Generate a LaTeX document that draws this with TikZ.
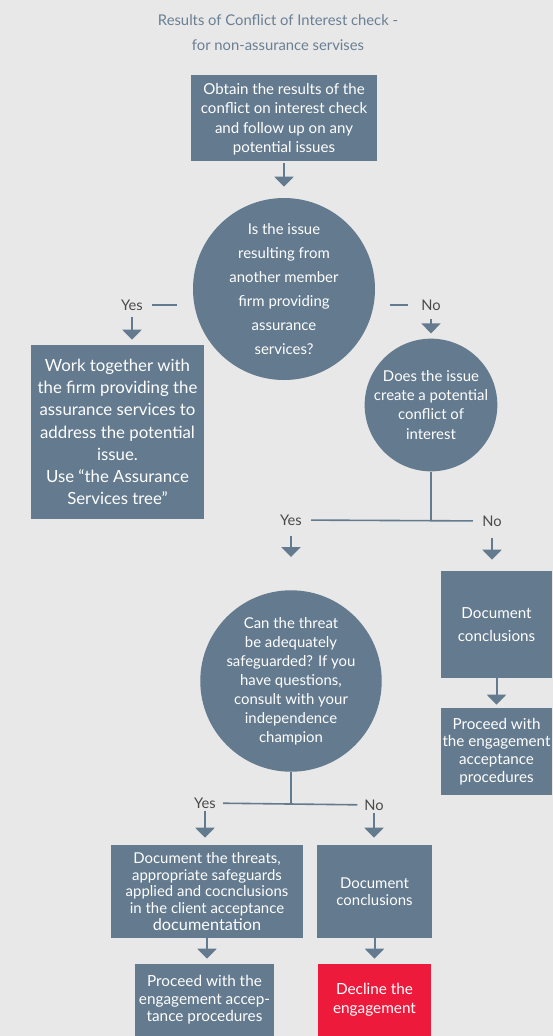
\documentclass[tikz,border=0pt]{standalone}
\usepackage{fontspec}
\setmainfont{Lato}
\usepackage{tikz}
\usetikzlibrary{positioning,
                arrows.meta}                % arrow tips

\definecolor{bgGrey}{HTML}{E8E8E8}
\definecolor{boxBlue}{HTML}{637A8F}
\definecolor{titleBlue}{HTML}{6A7F94}
\definecolor{labelGrey}{HTML}{4A4A4A}
\definecolor{declineRed}{HTML}{EE1A3C}

\tikzset{
    box/.style={rectangle, fill=boxBlue, text=white, align=center, inner sep=1pt,
                font=\fontsize{11.3}{14.5}\selectfont},
    blob/.style={circle, fill=boxBlue, text=white, align=center, inner sep=0pt,
                 font=\fontsize{11.2}{14.3}\selectfont},
    answer/.style={text=labelGrey, inner sep=0pt, font=\fontsize{11}{12}\selectfont},
    link/.style={boxBlue, line width=1.2pt},
    arr/.style={boxBlue, line width=1.5pt, -{Triangle[width=14.25pt, length=7.5pt]}},
}

\begin{document}
\begin{tikzpicture}[x=0.75pt, y=-0.75pt]
        \fill[bgGrey] (0,0) rectangle (553,1036);
        \useasboundingbox (0,0) rectangle (553,1036);

        \node[text=titleBlue, align=center, font=\fontsize{11.1}{18.75}\selectfont] (title) at (278,33)
            {Results of Conflict of Interest check -\\for non-assurance servises};

        \node[box, minimum width=139.5pt, minimum height=64.5pt, text depth=-2pt] (obtain) at (284,118)
            {Obtain the results of the\\conflict on interest check\\and follow up on any\\potential issues};

        \node[blob, minimum size=136.5pt, font=\fontsize{11.2}{18}\selectfont] (issue) at (284,289)
            {Is the issue\\resulting from\\another member\\firm providing\\assurance\\services?};

        \node[answer] (yesA) at (132,305) {Yes};
        \node[answer] (noA) at (431,305) {No};

        \node[box, minimum width=129.75pt, minimum height=130.5pt, font=\fontsize{12.6}{16.6}\selectfont] (work) at (117.5,432)
            {Work together with\\the firm providing the\\assurance services to\\address the potential\\issue.\\Use ``the Assurance\\Services tree''};

        \node[blob, minimum size=90pt] (create) at (431,405)
            {Does the issue\\create a potential\\conflict of\\interest};

        \node[answer] (yesB) at (291,520) {Yes};
        \node[answer] (noB) at (492,521) {No};

        \node[blob, minimum size=132pt] (threat) at (291,681)
            {Can the threat\\be adequately\\safeguarded? If you\\have questions,\\consult with your\\independence\\champion};

        \node[box, minimum width=83.25pt, minimum height=80.25pt, font=\fontsize{11.4}{17.25}\selectfont] (docA) at (496.5,624.5)
            {Document\\conclusions};
        \node[box, minimum width=83.25pt, minimum height=65.25pt, font=\fontsize{11.4}{13.3}\selectfont] (proceedA) at (496.5,751.5)
            {Proceed with\\the engagement\\acceptance\\procedures};

        \node[answer] (yesC) at (205,803) {Yes};
        \node[answer] (noC) at (374,805) {No};

        \node[box, minimum width=144pt, minimum height=69.75pt, font=\fontsize{11.2}{12.4}\selectfont] (docB) at (207,891.5)
            {Document the threats,\\appropriate safeguards\\applied and cocnclusions\\in the client acceptance\\{\fontsize{12.2}{13.6}\selectfont documentation}};
        \node[box, minimum width=86.25pt, minimum height=69.75pt, font=\fontsize{11.2}{12.8}\selectfont] (docC) at (374.5,891.5)
            {Document\\conclusions};

        \node[box, minimum width=104.25pt, minimum height=54pt, font=\fontsize{11.5}{13.1}\selectfont] (proceedB) at (204.5,1000)
            {Proceed with the\\engagement accep-\\tance procedures};
        \node[box, fill=declineRed, minimum width=84.75pt, minimum height=54pt, font=\fontsize{11.5}{14.3}\selectfont] (decline) at (374.5,1000)
            {Decline the\\engagement};

        % first question
        \draw[arr, shorten <=1.5pt, shorten >=8.25pt] (obtain) -- (issue);
        \draw[link, shorten <=6.75pt] (yesA.east) -- ([xshift=-12pt]yesA.east -| issue.west);
        \draw[link, shorten <=11.25pt, shorten >=10pt] (issue.east |- noA) -- (noA);
        \draw[arr, shorten <=4.5pt, shorten >=3.75pt] (yesA) -- (yesA |- work.north);
        \draw[arr, shorten <=6pt, shorten >=3.75pt] (noA) -- (noA |- create.north);

        % second question
        \draw[link] (create.south) -- (create.south |- yesB);
        \draw[link, shorten <=6.75pt, shorten >=7pt] (yesB) -- (noB);
        \draw[arr, shorten <=7.5pt, shorten >=24.75pt] (yesB) -- (yesB |- threat.north);
        \draw[arr, shorten <=8.25pt, shorten >=8.25pt] (noB) -- (noB |- docA.north);
        \draw[arr, shorten >=2.25pt] (docA) -- (proceedA);

        % third question
        \draw[link] (threat.south) -- (threat.south |- yesC);
        \draw[link, shorten <=5.25pt, shorten >=5pt] (yesC) -- (noC);
        \draw[arr, shorten <=1.5pt, shorten >=5.25pt] (yesC) -- (yesC |- docB.north);
        \draw[arr, shorten <=1.5pt, shorten >=5.25pt] (noC) -- (noC |- docC.north);
        \draw[arr, shorten >=3.75pt] (docB) -- (docB |- proceedB.north);
        \draw[arr, shorten >=3.75pt] (docC) -- (decline);

\end{tikzpicture}
\end{document}
